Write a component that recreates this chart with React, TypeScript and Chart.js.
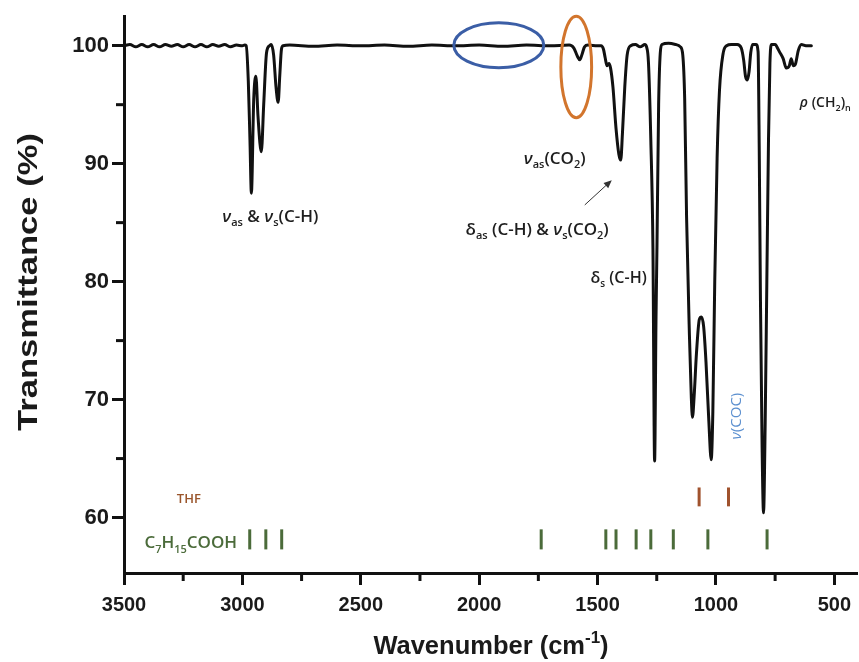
import React, { useEffect, useRef } from 'react';
import { Chart, registerables } from 'chart.js';

Chart.register(...registerables);

// ---- Spectrum ----
const wavenumbers = [
  3500, 3475, 3450, 3425, 3400, 3375, 3350, 3325, 3300, 3275, 3250, 3225, 3200, 3175, 3150, 3125, 3100, 3075, 3050, 3025, 3000, 2990,
  2984, 2975, 2968, 2962, 2952, 2943, 2934, 2920, 2910, 2898, 2885, 2878, 2868, 2858, 2849, 2842, 2835, 2828,
  2800, 2700, 2600, 2500, 2400, 2300, 2200, 2100, 2000, 1900, 1800, 1700, 1620,
  1600, 1585, 1575, 1565, 1555, 1540, 1500,
  1485, 1475, 1468, 1460, 1452, 1445, 1435, 1422, 1410, 1402, 1395, 1385, 1375, 1360, 1340, 1320, 1300,
  1293, 1285, 1275, 1266, 1259, 1253, 1249, 1242, 1235, 1228, 1200, 1170,
  1150, 1140, 1132, 1124, 1112, 1104, 1099, 1092, 1082, 1070, 1061, 1052, 1042, 1030, 1020, 1013, 1005, 995, 985, 970, 955, 935,
  910, 893, 883, 875, 867, 860, 853, 845, 830,
  822, 817, 812, 805, 799, 792, 785, 778, 772, 765,
  749, 740, 732, 716, 703, 690, 682, 673, 665, 652, 639, 620, 597,
];
const transmittance = [
  100.0, 100.1, 99.9, 100.1, 99.9, 100.1, 99.9, 100.1, 99.95, 100.1, 99.9, 100.1, 99.9, 100.1, 99.9, 100.1, 99.95, 100.1, 99.9, 100.05, 100.0, 100.05,
  100.0, 97.0, 92.0, 87.5, 95.5, 97.4, 94.0, 91.0, 95.0, 99.4, 100.0, 100.1, 99.2, 96.5, 95.2, 97.5, 99.7, 100.0,
  100.05, 99.95, 100.05, 100.0, 100.05, 99.95, 100.05, 100.0, 100.05, 99.95, 100.05, 100.0, 100.05,
  99.8, 99.1, 98.8, 99.3, 99.9, 100.05, 100.0,
  100.0, 99.7, 99.0, 98.3, 98.5, 98.1, 96.5, 93.0, 90.8, 90.3, 92.5, 96.5, 99.2, 100.0, 100.1, 99.9, 100.1,
  99.9, 98.6, 92.0, 82.8, 64.8, 77.0, 83.0, 95.0, 99.4, 100.1, 100.2, 100.1,
  99.9, 99.2, 95.5, 85.5, 75.5, 70.2, 68.5, 70.3, 74.0, 76.8, 77.0, 76.2, 73.2, 68.2, 64.9, 69.0, 80.0, 90.5, 96.2, 99.3, 100.0, 100.1,
  100.1, 99.8, 98.8, 97.4, 97.1, 97.8, 99.4, 100.1, 100.1,
  99.5, 91.0, 78.5, 66.0, 60.4, 68.0, 80.0, 92.0, 98.5, 100.1,
  100.1, 99.8, 99.5, 98.9, 98.1, 98.3, 98.9, 98.3, 98.4, 99.6, 100.1, 100.0, 100.0,
];

// ---- Reference band markers ----
const thfBands = [1071, 947];
const thfRange = [62.55, 60.95];
const acidBands = [2969, 2901, 2834, 1738, 1465, 1422, 1337, 1275, 1180, 1034, 784];
const acidRange = [59.0, 57.3];

// ---- Axes ----
const xMin = 400;
const xMax = 3500;
const xStep = 250;
const xLabelEvery = 500;
const yMin = 55.3;
const yMax = 102.5;
const yStep = 5;
const yLabelEvery = 10;
const xTitle = [{ t: 'Wavenumber (cm' }, { t: '-1', sup: true }, { t: ')' }];
const yTitle = 'Transmittance (%)';

// ---- Highlights (data coordinates) ----
const blueEllipse = { wn: 1917, t: 100.04, rwn: 190, rt: 1.9 };
const orangeEllipse = { wn: 1590, t: 98.2, rwn: 65, rt: 4.3 };
const arrow = { from: [1554, 86.5], to: [1440, 88.6] };

type Seg = { t: string; sub?: boolean; sup?: boolean; it?: boolean };

const annotationLabels: { segs: Seg[]; wn: number; t: number; size: number }[] = [
  { segs: [{ t: 'ν', it: true }, { t: 'as', sub: true }, { t: ' & ' }, { t: 'ν', it: true }, { t: 's', sub: true }, { t: '(C-H)' }], wn: 2882, t: 85.6, size: 17 },
  { segs: [{ t: 'ν', it: true }, { t: 'as', sub: true }, { t: '(CO' }, { t: '2', sub: true }, { t: ')' }], wn: 1681, t: 90.5, size: 17 },
  { segs: [{ t: 'δ' }, { t: 'as', sub: true }, { t: ' (C-H) & ' }, { t: 'ν', it: true }, { t: 's', sub: true }, { t: '(CO' }, { t: '2', sub: true }, { t: ')' }], wn: 1755, t: 84.5, size: 17 },
  { segs: [{ t: 'δ' }, { t: 's', sub: true }, { t: ' (C-H)' }], wn: 1411, t: 80.4, size: 16 },
  { segs: [{ t: 'ρ', it: true }, { t: ' (CH' }, { t: '2', sub: true }, { t: ')' }, { t: 'n', sub: true }], wn: 538, t: 95.2, size: 14 },
];
const cocLabel = { segs: [{ t: 'ν', it: true }, { t: '(COC)' }] as Seg[], wn: 915, t: 68.6 };
const thfLabel = { segs: [{ t: 'THF' }] as Seg[], wn: 3226, t: 61.6 };
const acidLabel = { segs: [{ t: 'C' }, { t: '7', sub: true }, { t: 'H' }, { t: '15', sub: true }, { t: 'COOH' }] as Seg[], wn: 3218, t: 57.9 };

const AXIS_FONT = '"Liberation Sans", Arial, sans-serif';
const NOTE_FONT = '"Open Sans", "Noto Sans", sans-serif';

function drawRich(
  ctx: CanvasRenderingContext2D,
  segs: Seg[],
  cx: number,
  cy: number,
  size: number,
  family: string,
  weight: string,
  color: string,
) {
  const fontFor = (s: Seg) =>
    `${s.it ? 'italic ' : ''}${weight} ${s.sub || s.sup ? Math.round(size * 0.65) : size}px ${family}`;
  const widths = segs.map((s) => {
    ctx.font = fontFor(s);
    return ctx.measureText(s.t).width;
  });
  const total = widths.reduce((a, b) => a + b, 0);
  let x = cx - total / 2;
  const base = cy + size * 0.36;
  ctx.fillStyle = color;
  ctx.textAlign = 'left';
  ctx.textBaseline = 'alphabetic';
  segs.forEach((s, i) => {
    ctx.font = fontFor(s);
    const off = s.sub ? size * 0.25 : s.sup ? -size * 0.42 : 0;
    ctx.fillText(s.t, x, base + off);
    x += widths[i];
  });
}

const decorPlugin = {
  id: 'decor',
  afterDraw(chart: any) {
    const { ctx, chartArea } = chart;
    const x = chart.scales.x;
    const y = chart.scales.y;
    const px = (v: number) => x.getPixelForValue(v);
    const py = (v: number) => y.getPixelForValue(v);
    ctx.save();

    // minor ticks
    ctx.strokeStyle = '#111';
    ctx.lineWidth = 3;
    ctx.lineCap = 'butt';
    x.ticks.forEach((tk: any) => {
      if (tk.value % xLabelEvery !== 0) {
        const p = px(tk.value);
        ctx.beginPath();
        ctx.moveTo(p, chartArea.bottom);
        ctx.lineTo(p, chartArea.bottom + 8);
        ctx.stroke();
      }
    });
    y.ticks.forEach((tk: any) => {
      if (Math.abs(tk.value % yLabelEvery) > 1e-6) {
        const p = py(tk.value);
        ctx.beginPath();
        ctx.moveTo(chartArea.left, p);
        ctx.lineTo(chartArea.left - 8, p);
        ctx.stroke();
      }
    });

    // band sticks
    ctx.lineWidth = 3;
    ctx.strokeStyle = '#a0522d';
    thfBands.forEach((b) => {
      ctx.beginPath();
      ctx.moveTo(px(b), py(thfRange[0]));
      ctx.lineTo(px(b), py(thfRange[1]));
      ctx.stroke();
    });
    ctx.strokeStyle = '#4b6b3a';
    acidBands.forEach((b) => {
      ctx.beginPath();
      ctx.moveTo(px(b), py(acidRange[0]));
      ctx.lineTo(px(b), py(acidRange[1]));
      ctx.stroke();
    });

    // ellipses
    const drawEll = (e: any, color: string) => {
      const cx = px(e.wn);
      const cy = py(e.t);
      const rx = Math.abs(px(e.wn + e.rwn) - cx);
      const ry = Math.abs(py(e.t + e.rt) - cy);
      ctx.beginPath();
      ctx.ellipse(cx, cy, rx, ry, 0, 0, Math.PI * 2);
      ctx.strokeStyle = color;
      ctx.lineWidth = 3;
      ctx.stroke();
    };
    drawEll(blueEllipse, '#3b5ea6');
    drawEll(orangeEllipse, '#d2752d');

    // arrow
    const ax1 = px(arrow.from[0]);
    const ay1 = py(arrow.from[1]);
    const ax2 = px(arrow.to[0]);
    const ay2 = py(arrow.to[1]);
    const ang = Math.atan2(ay2 - ay1, ax2 - ax1);
    ctx.strokeStyle = '#333';
    ctx.fillStyle = '#333';
    ctx.lineWidth = 1;
    ctx.beginPath();
    ctx.moveTo(ax1, ay1);
    ctx.lineTo(ax2 - 5 * Math.cos(ang), ay2 - 5 * Math.sin(ang));
    ctx.stroke();
    ctx.beginPath();
    ctx.moveTo(ax2, ay2);
    ctx.lineTo(ax2 - 8 * Math.cos(ang) + 3.5 * Math.sin(ang), ay2 - 8 * Math.sin(ang) - 3.5 * Math.cos(ang));
    ctx.lineTo(ax2 - 8 * Math.cos(ang) - 3.5 * Math.sin(ang), ay2 - 8 * Math.sin(ang) + 3.5 * Math.cos(ang));
    ctx.closePath();
    ctx.fill();

    // annotation labels
    annotationLabels.forEach((a) => drawRich(ctx, a.segs, px(a.wn), py(a.t), a.size, NOTE_FONT, '600', '#1e1e1e'));
    drawRich(ctx, thfLabel.segs, px(thfLabel.wn), py(thfLabel.t), 13, NOTE_FONT, '600', '#9a552b');
    drawRich(ctx, acidLabel.segs, px(acidLabel.wn), py(acidLabel.t), 17, NOTE_FONT, '600', '#4b6b3a');

    ctx.save();
    ctx.translate(px(cocLabel.wn), py(cocLabel.t));
    ctx.rotate(-Math.PI / 2);
    drawRich(ctx, cocLabel.segs, 0, 0, 15, NOTE_FONT, '400', '#5b8fcf');
    ctx.restore();

    // axis titles
    drawRich(ctx, xTitle, (chartArea.left + chartArea.right) / 2, 645, 25.5, AXIS_FONT, 'bold', '#1a1a1a');
    ctx.save();
    ctx.translate(27, 282);
    ctx.rotate(-Math.PI / 2);
    ctx.font = `bold 27px ${AXIS_FONT}`;
    const w = ctx.measureText(yTitle).width;
    ctx.scale(298 / w, 1);
    drawRich(ctx, [{ t: yTitle }], 0, 0, 27, AXIS_FONT, 'bold', '#1a1a1a');
    ctx.restore();

    ctx.restore();
  },
};

export default function App() {
  const ref = useRef<HTMLCanvasElement>(null);
  useEffect(() => {
    const chart = new Chart(ref.current as HTMLCanvasElement, {
      type: 'line',
      data: {
        datasets: [
          {
            data: wavenumbers.map((w, i) => ({ x: w, y: transmittance[i] })),
            borderColor: '#111',
            borderWidth: 3,
            pointRadius: 0,
            fill: false,
            cubicInterpolationMode: 'monotone',
            borderJoinStyle: 'round',
            borderCapStyle: 'round',
          },
        ],
      },
      options: {
        animation: false,
        responsive: false,
        devicePixelRatio: 1,
        layout: { autoPadding: false, padding: { top: 15, left: 0, right: 0, bottom: 0 } },
        plugins: { legend: { display: false }, tooltip: { enabled: false } },
        scales: {
          x: {
            type: 'linear',
            reverse: true,
            min: xMin,
            max: xMax,
            afterFit: (s: any) => {
              s.height = 89;
            },
            ticks: {
              stepSize: xStep,
              includeBounds: false,
              autoSkip: false,
              maxRotation: 0,
              padding: 8,
              color: '#1a1a1a',
              font: { family: AXIS_FONT, weight: 'bold', size: 20 },
              callback: (v: any) => (Number(v) % xLabelEvery === 0 ? String(v) : ''),
            },
            grid: {
              drawOnChartArea: false,
              tickLength: 12,
              tickColor: '#111',
              tickWidth: (c: any) => (c.tick && c.tick.value % xLabelEvery === 0 ? 3 : 0),
            },
            border: { display: true, width: 3, color: '#111' },
          },
          y: {
            min: yMin,
            max: yMax,
            afterFit: (s: any) => {
              s.width = 124;
            },
            ticks: {
              stepSize: yStep,
              includeBounds: false,
              padding: 3,
              color: '#1a1a1a',
              font: { family: AXIS_FONT, weight: 'bold', size: 22 },
              callback: (v: any) => (Math.abs(Number(v) % yLabelEvery) < 1e-6 ? String(v) : ''),
            },
            grid: {
              drawOnChartArea: false,
              tickLength: 12,
              tickColor: '#111',
              tickWidth: (c: any) => (c.tick && Math.abs(c.tick.value % yLabelEvery) < 1e-6 ? 3 : 0),
            },
            border: { display: true, width: 3, color: '#111' },
          },
        },
      },
      plugins: [decorPlugin],
    } as any);
    return () => chart.destroy();
  }, []);
  return (
    <div style={{ position: 'absolute', left: 0, top: 0, width: 859, height: 662 }}>
      <canvas ref={ref} width={859} height={662} style={{ display: 'block' }} />
    </div>
  );
}
